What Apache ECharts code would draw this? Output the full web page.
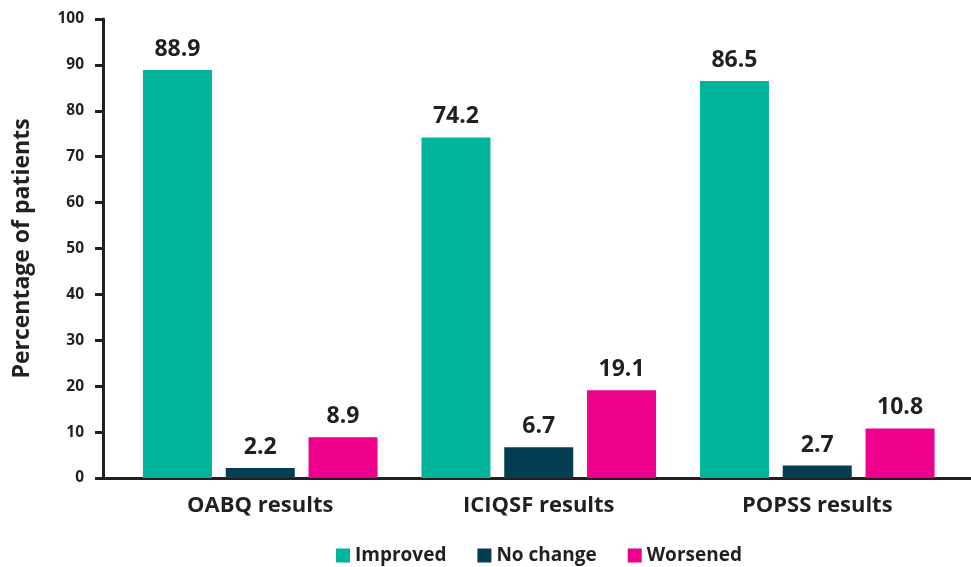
<!DOCTYPE html>
<html><head><meta charset="utf-8">
<script src="https://cdn.jsdelivr.net/npm/echarts@6/dist/echarts.min.js"></script>
<style>html,body{margin:0;padding:0;background:#fff}#c{width:971px;height:567px}</style>
</head><body><div id="c"></div>
<script>
var categories = ["OABQ results", "ICIQSF results", "POPSS results"];
var improved = [88.9, 74.2, 86.5];
var noChange = [2.2, 6.7, 2.7];
var worsened = [8.9, 19.1, 10.8];
var yTicks = [0, 10, 20, 30, 40, 50, 60, 70, 80, 90, 100];

var FONT = "Open Sans";
var TXT = "#231F20";
var chart = echarts.init(document.getElementById('c'));
function s(name, data, color) {
  return {
    name: name, type: 'bar', data: data, xAxisIndex: 0, yAxisIndex: 0,
    barWidth: 69, barGap: '20%',
    itemStyle: { color: color },
    label: { show: true, position: 'top', distance: 9, fontFamily: FONT, fontWeight: 'bold', fontSize: 23, color: TXT,
      formatter: function (p) { return p.value.toFixed(1); } }
  };
}
chart.setOption({
  animation: false,
  textStyle: { fontFamily: FONT },
  grid: [
    { left: 121, width: 835.5, top: 19, bottom: 89 },
    { left: 103, right: 0, top: 19, bottom: 89 }
  ],
  xAxis: [
    { type: 'category', gridIndex: 0, data: categories,
      axisLine: { show: false }, axisTick: { show: false },
      axisLabel: { fontFamily: FONT, fontWeight: 'bold', fontSize: 22, color: TXT, margin: 17 } },
    { type: 'value', gridIndex: 1, min: 0, max: 1, show: true,
      axisLine: { show: true, lineStyle: { color: TXT, width: 3 } },
      axisTick: { show: false }, axisLabel: { show: false }, splitLine: { show: false } }
  ],
  yAxis: [
    { type: 'value', gridIndex: 0, min: 0, max: 100, show: false },
    { type: 'value', gridIndex: 1, min: 0, max: 100, interval: 10,
      name: 'Percentage of patients', nameLocation: 'middle', nameGap: 69,
      nameTextStyle: { fontFamily: FONT, fontWeight: 'bold', fontSize: 23, color: TXT },
      axisLine: { show: true, lineStyle: { color: TXT, width: 3 } },
      axisTick: { show: true, length: 8, lineStyle: { color: TXT, width: 3 } },
      axisLabel: { fontFamily: FONT, fontWeight: 'bold', fontSize: 15.5, color: TXT, margin: 19,
        formatter: function (v) { return yTicks.indexOf(v) >= 0 ? String(v) : ''; } },
      splitLine: { show: false } }
  ],
  legend: {
    top: 541, left: 331, itemWidth: 14, itemHeight: 14, itemGap: 31,
    icon: 'rect',
    textStyle: { fontFamily: FONT, fontWeight: 'bold', fontSize: 19, color: TXT },
    data: ['Improved', 'No change', 'Worsened']
  },
  series: [
    s('Improved', improved, '#00B59C'),
    s('No change', noChange, '#033D52'),
    s('Worsened', worsened, '#EC008C')
  ]
});
</script></body></html>
